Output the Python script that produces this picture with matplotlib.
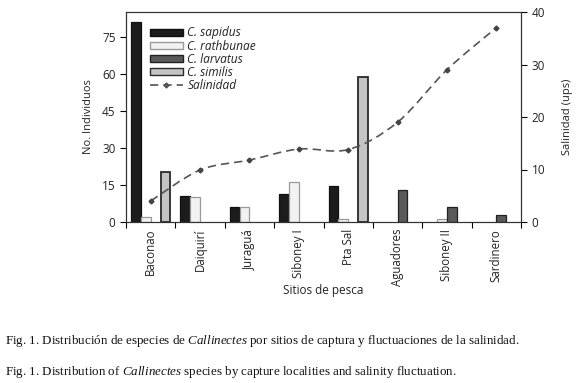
import numpy as np
import matplotlib
matplotlib.use("Agg")
import matplotlib.pyplot as plt
from matplotlib.path import Path
from matplotlib.patches import PathPatch, Patch
from matplotlib.lines import Line2D

plt.rcParams['font.family'] = ['Open Sans', 'DejaVu Sans']
plt.rcParams['mathtext.fontset'] = 'custom'
plt.rcParams['mathtext.rm'] = 'Liberation Serif'
plt.rcParams['mathtext.it'] = 'Liberation Serif:italic'

# datos
sitios = ['Baconao', 'Daiquirí', 'Juraguá', 'Siboney I', 'Pta Sal',
          'Aguadores', 'Siboney II', 'Sardinero']
especies = ['C. sapidus', 'C. rathbunae', 'C. larvatus', 'C. similis']
sapidus = [81, 10.5, 6, 11.5, 14.5, 0, 0, 0]
rathbunae = [2, 10, 6, 16.2, 1.2, 0, 1.2, 0]
larvatus = [0, 0, 0, 0, 0, 13, 6.2, 3]
similis = [20.3, 0, 0, 0, 58.5, 0, 0, 0]
salinidad = [4.0, 9.9, 11.8, 13.9, 13.8, 19.0, 29.0, 37.0]

caras = ['#1c1c1c', '#f2f2f2', '#5a5a5a', '#c4c4c4']
bordes = ['#111111', '#9a9a9a', '#222222', '#2a2a2a']
gris_txt = '#222222'

fig = plt.figure(figsize=(5.8, 3.83), dpi=100)
ax = fig.add_axes([126 / 580, 1 - 222 / 383, 395 / 580, 210 / 383])
ax2 = ax.twinx()

x = np.arange(len(sitios))
ancho = 0.2
for i, (vals, fc, ec) in enumerate(zip([sapidus, rathbunae, larvatus, similis], caras, bordes)):
    vals = np.array(vals, dtype=float)
    hay = vals > 0  # las barras en cero no se dibujan
    pos = x[hay] + (i - 1.5) * ancho
    ax.bar(pos, vals[hay], width=ancho * 0.97, color=fc, edgecolor=ec,
           linewidth=1.3 if i == 3 else 0.9, zorder=2)

# linea suavizada (bezier tipo catmull-rom) de salinidad
pts = np.column_stack([x, salinidad]).astype(float)
verts = [tuple(pts[0])]
codes = [Path.MOVETO]
n = len(pts)
for k in range(n - 1):
    p0 = pts[max(k - 1, 0)]
    p1 = pts[k]
    p2 = pts[k + 1]
    p3 = pts[min(k + 2, n - 1)]
    c1 = p1 + (p2 - p0) / 6
    c2 = p2 - (p3 - p1) / 6
    verts += [tuple(c1), tuple(c2), tuple(p2)]
    codes += [Path.CURVE4] * 3
curva = PathPatch(Path(verts, codes), facecolor='none', edgecolor='#555555',
                  linewidth=1.2, linestyle=(0, (5, 3)), zorder=3)
ax2.add_patch(curva)
ax2.plot(x, salinidad, linestyle='none', marker='D', markersize=2.5,
         color='#444444', zorder=4)

ax.set_xlim(-0.5, len(sitios) - 0.5)
ax.set_ylim(0, 85)
ax2.set_ylim(0, 40)

ax.set_yticks([0, 15, 30, 45, 60, 75])
ax2.set_yticks([0, 10, 20, 30, 40])
ax.set_xticks(x)
ax.set_xticklabels(sitios, rotation=90, fontsize=8.3, color=gris_txt)
ax.set_xticks(np.arange(len(sitios) + 1) - 0.5, minor=True)
ax.tick_params(axis='x', which='major', length=0, pad=5)
ax.tick_params(axis='x', which='minor', length=4, width=0.8, direction='out')
ax.tick_params(axis='y', labelsize=8.5, labelcolor=gris_txt, length=4, width=0.8)
ax2.tick_params(axis='y', labelsize=8.5, labelcolor=gris_txt, length=4, width=0.8)

for a in (ax, ax2):
    for s in a.spines.values():
        s.set_color('#333333')
        s.set_linewidth(0.8)

ax.set_ylabel('No. Individuos', fontsize=8, color=gris_txt, labelpad=6)
ax2.set_ylabel('Salinidad (ups)', fontsize=8, color=gris_txt, labelpad=12)
ax.set_xlabel('Sitios de pesca', fontsize=8.5, color=gris_txt, labelpad=-2)

manejadores = [Patch(facecolor=fc, edgecolor=ec, linewidth=1.0) for fc, ec in zip(caras, bordes)]
manejadores.append(Line2D([], [], color='#555555', linestyle=(0, (5, 3)), linewidth=1.2,
                          marker='D', markersize=2.5))
ley = ax2.legend(manejadores, especies + ['Salinidad'], loc='upper left',
                 bbox_to_anchor=(0.045, 0.96), frameon=False, borderpad=0,
                 handlelength=2.8, handleheight=0.55, labelspacing=0.02,
                 handletextpad=0.35, prop={'style': 'italic', 'size': 8.6})
for t in ley.get_texts():
    t.set_color(gris_txt)

fig.text(0.009, 1 - 341 / 383,
         r'Fig. 1. Distribución de especies de $\mathit{Callinectes}$ por sitios de captura y fluctuaciones de la salinidad.',
         fontfamily='Liberation Serif', fontsize=9.4, va='center', color='#111111')
fig.text(0.009, 1 - 372 / 383,
         r'Fig. 1. Distribution of $\mathit{Callinectes}$ species by capture localities and salinity fluctuation.',
         fontfamily='Liberation Serif', fontsize=9.4, va='center', color='#111111')

fig.savefig('out.png', dpi=100, facecolor='white')
